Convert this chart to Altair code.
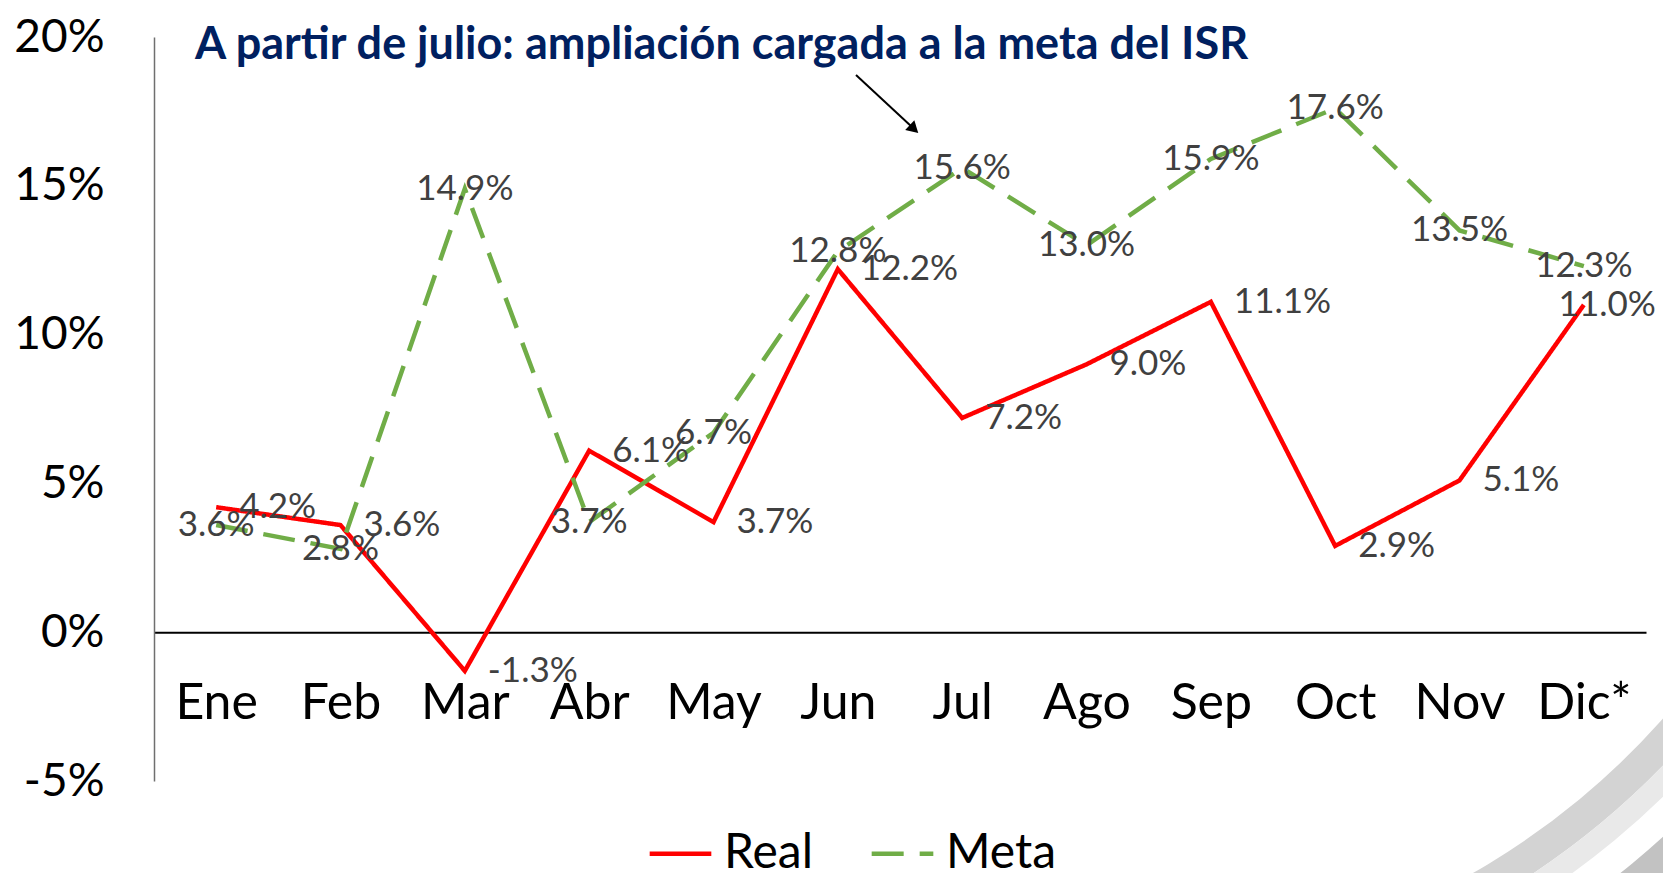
import altair as alt
import pandas as pd

meses = ["Ene", "Feb", "Mar", "Abr", "May", "Jun", "Jul", "Ago", "Sep", "Oct", "Nov", "Dic*"]
real = [4.2, 3.6, -1.3, 6.1, 3.7, 12.2, 7.2, 9.0, 11.1, 2.9, 5.1, 11.0]
meta = [3.6, 2.8, 14.9, 3.7, 6.7, 12.8, 15.6, 13.0, 15.9, 17.6, 13.5, 12.3]
series = ["Real", "Meta"]
colores = ["#FF0000", "#70AD47"]
y_ticks = [-5, 0, 5, 10, 15, 20]
titulo = "A partir de julio: ampliación cargada a la meta del ISR"

rows = []
for i, m in enumerate(meses):
    rows.append({"mes": m, "serie": "Real", "valor": real[i]})
    rows.append({"mes": m, "serie": "Meta", "valor": meta[i]})
df = pd.DataFrame(rows)
df["etiqueta"] = df["valor"].map(lambda v: f"{v:.1f}%")

FONT = "Lato"
W, H = 1492, 744

x_enc = alt.X(
    "mes:N",
    sort=meses,
    scale=alt.Scale(type="point", padding=0.5),
    axis=alt.Axis(
        title=None,
        ticks=False,
        tickSize=0,
        domain=True,
        domainColor="#000000",
        domainWidth=2,
        labelFont=FONT,
        labelFontSize=50,
        labelColor="#000000",
        labelPadding=71,
        labelBaseline="middle",
        labelAngle=0,
        offset=-148.8,
        grid=False,
    ),
)
y_enc = alt.Y(
    "valor:Q",
    scale=alt.Scale(domain=[-5, 20], nice=False, zero=False),
    axis=alt.Axis(
        title=None,
        values=y_ticks,
        labelExpr="datum.value + '%'",
        ticks=False,
        grid=False,
        domainColor="#6f6f6f",
        domainWidth=1.5,
        labelFont=FONT,
        labelFontSize=46,
        labelColor="#000000",
        labelPadding=50,
    ),
)

leg = alt.Legend(
    title=None,
    orient="none",
    legendX=493,
    legendY=783,
    direction="horizontal",
    symbolType="stroke",
    symbolSize=3800,
    symbolStrokeWidth=4.5,
    labelFont=FONT,
    labelFontSize=48,
    labelColor="#000000",
    labelOffset=10,
    columnPadding=48,
)

base = alt.Chart(df)

lines = base.mark_line(strokeWidth=4.5).encode(
    x=x_enc,
    y=y_enc,
    color=alt.Color("serie:N", scale=alt.Scale(domain=series, range=colores), legend=leg),
    strokeDash=alt.StrokeDash(
        "serie:N", scale=alt.Scale(domain=series, range=[[1, 0], [32, 16]]), legend=leg
    ),
    order=alt.Order("serie:N", sort="descending"),
)

lab_real = base.transform_filter(
    (alt.datum.serie == "Real") & (alt.datum.mes != "Dic*")
).mark_text(
    font=FONT, fontSize=35, color="#404040", align="left", baseline="middle", dx=23
).encode(x=alt.X("mes:N", sort=meses), y="valor:Q", text="etiqueta:N")

lab_real_last = base.transform_filter(
    (alt.datum.serie == "Real") & (alt.datum.mes == "Dic*")
).mark_text(
    font=FONT, fontSize=35, color="#404040", align="right", baseline="middle", dx=72
).encode(x=alt.X("mes:N", sort=meses), y="valor:Q", text="etiqueta:N")

lab_meta = base.transform_filter(alt.datum.serie == "Meta").mark_text(
    font=FONT, fontSize=35, color="#404040", align="center", baseline="middle"
).encode(x=alt.X("mes:N", sort=meses), y="valor:Q", text="etiqueta:N")

ann = pd.DataFrame({"t": [titulo]})
title_txt = alt.Chart(ann).mark_text(
    font=FONT, fontSize=45, fontWeight="bold", color="#002060", align="left", baseline="middle"
).encode(text="t:N", x=alt.value(41), y=alt.value(8))

arrow_line = alt.Chart(ann).mark_rule(color="#000000", strokeWidth=2).encode(
    x=alt.value(702), y=alt.value(38), x2=alt.value(758), y2=alt.value(90)
)
arrow_head = alt.Chart(ann).mark_point(
    shape="triangle-up", filled=True, color="#000000", size=180, angle=133, opacity=1
).encode(x=alt.value(760), y=alt.value(92))

# decorative slide swoosh (bottom-right)
def ring(r1, r2, col):
    return alt.Chart(ann).mark_arc(
        theta=1.85, theta2=3.05, radius=r1, radius2=r2, color=col, stroke=None
    ).encode(x=alt.value(946), y=alt.value(183))

swoosh = [ring(752, 784, "#d3d3d3"), ring(784, 806, "#e9e9e9"), ring(835, 1000, "#c2c2c2")]

chart = (
    alt.layer(*swoosh, lines, lab_real, lab_real_last, lab_meta, title_txt, arrow_line, arrow_head)
    .properties(
        width=W,
        height=H,
        autosize=alt.AutoSizeParams(type="none"),
        padding={"left": 146, "top": 29, "right": 17, "bottom": 92},
        background="#ffffff",
    )
    .configure_view(stroke=None)
)

chart.save("out.html", embed_options={"renderer": "svg", "actions": False})
